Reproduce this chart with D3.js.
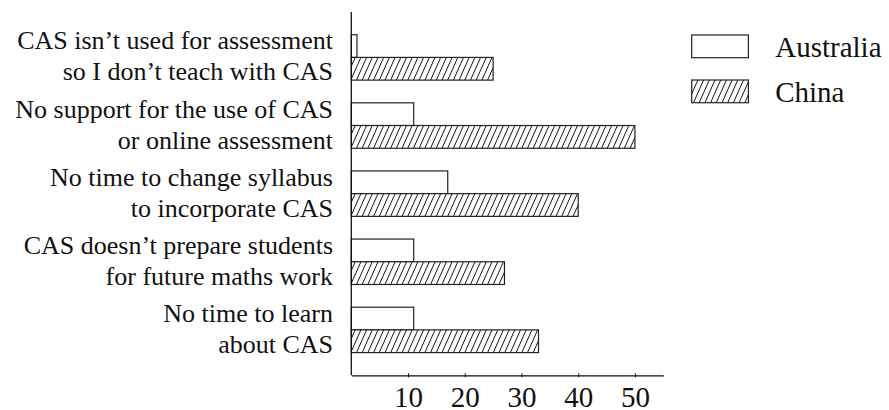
<!DOCTYPE html>
<html>
<head>
<meta charset="utf-8">
<script src="https://cdn.jsdelivr.net/npm/d3@7"></script>
<style>
body { margin:0; background:#fff; }
svg text { font-family:"Times New Roman", Times, "Liberation Serif", Tinos, "DejaVu Serif", serif; fill:#111; }
</style>
</head>
<body>
<svg id="ChartSvg" width="889" height="410"></svg>
<script>
// data
var Categories = [
	["CAS isn\u2019t used for assessment", "so I don\u2019t teach with CAS"],
	["No support for the use of CAS", "or online assessment"],
	["No time to change syllabus", "to incorporate CAS"],
	["CAS doesn\u2019t prepare students", "for future maths work"],
	["No time to learn", "about CAS"]
];
var SeriesNames = ["Australia", "China"];
var Australia = [1, 11, 17, 11, 11];
var China = [25, 50, 40, 27, 33];
var TickValues = [10, 20, 30, 40, 50];

var SerifFont = "'Times New Roman', Times, 'Liberation Serif', Tinos, 'DejaVu Serif', serif";

var Svg = d3.select("#ChartSvg").attr("font-family", SerifFont);

var Defs = Svg.append("defs");
var Hatch = Defs.append("pattern")
	.attr("id", "hatch")
	.attr("patternUnits", "userSpaceOnUse")
	.attr("width", 5.7)
	.attr("height", 30)
	.attr("patternTransform", "skewX(-24)");
Hatch.append("rect").attr("width", 5.7).attr("height", 30).style("fill", "#fff");
Hatch.append("line")
	.attr("x1", 0.5).attr("y1", 0).attr("x2", 0.5).attr("y2", 30)
	.style("stroke", "#111").style("stroke-width", 1);

var X = d3.scaleLinear().domain([0, 55]).range([351.3, 663.3]);
var Y = d3.scaleBand()
	.domain(d3.range(Categories.length))
	.range([12, 375.3])
	.paddingInner(1/3)
	.paddingOuter(1/3);
var Sub = d3.scaleBand().domain(SeriesNames).range([0, Y.bandwidth()]);

var Fills = {"Australia": "#fff", "China": "url(#hatch)"};
var Values = {"Australia": Australia, "China": China};

// bars
var Groups = Svg.selectAll("g.cat")
	.data(Categories)
	.enter()
	.append("g")
	.attr("class", "cat")
	.attr("transform", function(d, i) { return "translate(0," + Y(i) + ")"; });

Groups.selectAll("rect")
	.data(function(d, i) {
		return SeriesNames.map(function(s) { return {s: s, v: Values[s][i]}; });
	})
	.enter()
	.append("rect")
	.attr("x", X(0))
	.attr("y", function(d) { return Sub(d.s); })
	.attr("width", function(d) { return X(d.v) - X(0); })
	.attr("height", Sub.bandwidth())
	.style("fill", function(d) { return Fills[d.s]; })
	.style("stroke", "#222")
	.style("stroke-width", 1.2);

// category labels
Groups.append("text")
	.attr("text-anchor", "end")
	.style("font-family", SerifFont)
	.style("font-size", "26px")
	.selectAll("tspan")
	.data(function(d) { return d; })
	.enter()
	.append("tspan")
	.attr("x", 333)
	.attr("y", function(d, j) { return Y.bandwidth() / 2 + (j == 0 ? -8 : 23); })
	.text(function(d) { return d; });

// axes
var XAxis = Svg.append("g")
	.attr("transform", "translate(0," + 375.3 + ")")
	.call(d3.axisBottom(X).tickValues(TickValues).tickSize(2).tickSizeOuter(0))
	.attr("font-family", SerifFont);
XAxis.select(".domain").style("stroke", "#111").style("stroke-width", 1.3);
XAxis.selectAll(".tick line").attr("y1", -2).attr("y2", 2).style("stroke", "#111");
XAxis.selectAll(".tick text")
	.attr("y", 32)
	.attr("dy", null)
	.style("font-size", "29px")
	.style("font-family", SerifFont)
	.style("fill", "#111");

Svg.append("line")
	.attr("x1", X(0)).attr("x2", X(0))
	.attr("y1", 12).attr("y2", 375.3)
	.style("stroke", "#111").style("stroke-width", 1.3);

// legend
var Legend = Svg.selectAll("g.legend")
	.data(SeriesNames)
	.enter()
	.append("g")
	.attr("class", "legend")
	.attr("transform", function(d, i) { return "translate(691.7," + (35 + i * 45) + ")"; });

Legend.append("rect")
	.attr("width", 56.7)
	.attr("height", Sub.bandwidth())
	.style("fill", function(d) { return Fills[d]; })
	.style("stroke", "#222")
	.style("stroke-width", 1.2);

Legend.append("text")
	.attr("x", 83.5)
	.attr("y", 21.5)
	.style("font-family", SerifFont)
	.style("font-size", "29px")
	.text(function(d) { return d; });
</script>
</body>
</html>
